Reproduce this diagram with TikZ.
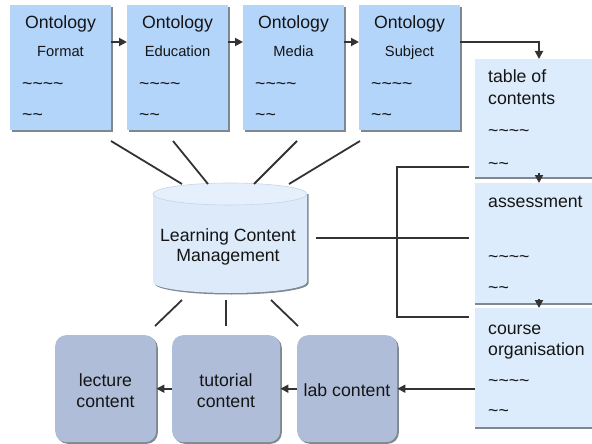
\documentclass[tikz,border=0pt]{standalone}
\usepackage{fontspec}
\setmainfont{Liberation Sans}
\usetikzlibrary{arrows.meta,shadows}
\definecolor{ontofill}{HTML}{B4D5FA}
\definecolor{rfill}{HTML}{DDECFC}
\definecolor{bfill}{HTML}{AFBDD9}
\definecolor{cylfill}{HTML}{DCEAFA}
\definecolor{cyltop}{HTML}{E6F0FC}
\definecolor{cylline}{HTML}{C5D5E8}
\definecolor{shadowc}{HTML}{7E8893}
\definecolor{linec}{HTML}{333333}
\definecolor{txtc}{HTML}{151515}
\newcommand\mytld{\textasciitilde}
\begin{document}
\begin{tikzpicture}[x=1pt,y=-1pt,
  conn/.style={draw=linec, line width=1.8pt},
  arr/.style={conn, -{Triangle[length=8pt,width=8pt]}},
  obox/.style={fill=ontofill, anchor=north west, minimum width=101pt, minimum height=125pt, inner sep=0pt,
    drop shadow={shadow xshift=1.6pt, shadow yshift=-1.6pt, fill=shadowc, opacity=1}},
  rbox/.style={fill=rfill, anchor=north west, minimum width=117pt, inner sep=0pt,
    drop shadow={shadow xshift=0pt, shadow yshift=-1.4pt, fill=shadowc, opacity=1}},
  bbox/.style={fill=bfill, anchor=north west, minimum height=107pt, inner sep=0pt, rounded corners=11pt,
    drop shadow={shadow xshift=1.6pt, shadow yshift=-1.6pt, fill=shadowc, opacity=1}},
  big/.style={font=\fontsize{17.7}{21}\selectfont, text=txtc, inner sep=0pt},
  small/.style={font=\fontsize{14.7}{17}\selectfont, text=txtc, inner sep=0pt},
]
\useasboundingbox (0,0) rectangle (592,444);

% ---- top ontology boxes
\node[obox] (fmt) at (10,5) {};
\node[obox] (edu) at (127,5) {};
\node[obox] (med) at (243,5) {};
\node[obox] (subj) at (359,5) {};
\foreach \n/\x/\s in {fmt/10/Format, edu/127/Education, med/243/Media, subj/359/Subject} {
  \node[big, anchor=base] (\n-t) at (\x+50.5,29) {Ontology};
  \node[small, anchor=base] (\n-s) at (\x+50.5,57) {\s};
  \node[big, anchor=base west] (\n-a) at (\x+12,89) {\mytld\mytld\mytld\mytld};
  \node[big, anchor=base west] (\n-b) at (\x+12,121) {\mytld\mytld};
}

% ---- right column boxes
\node[rbox, minimum height=118pt] (toc) at (475,59) {};
\node[rbox, minimum height=120pt] (ass) at (475,183) {};
\node[rbox, minimum height=119pt] (crs) at (475,308) {};
\node[big, anchor=base west] (toc-1) at (488,83) {table of};
\node[big, anchor=base west] (toc-2) at (488,104) {contents};
\node[big, anchor=base west] (toc-a) at (488,136) {\mytld\mytld\mytld\mytld};
\node[big, anchor=base west] (toc-b) at (488,169) {\mytld\mytld};
\node[big, anchor=base west] (ass-1) at (488,207) {assessment};
\node[big, anchor=base west] (ass-a) at (488,262) {\mytld\mytld\mytld\mytld};
\node[big, anchor=base west] (ass-b) at (488,293) {\mytld\mytld};
\node[big, anchor=base west] (crs-1) at (488,334) {course};
\node[big, anchor=base west] (crs-2) at (488,355) {organisation};
\node[big, anchor=base west] (crs-a) at (488,386) {\mytld\mytld\mytld\mytld};
\node[big, anchor=base west] (crs-b) at (488,416) {\mytld\mytld};

% ---- bottom content boxes
\node[bbox, minimum width=101pt] (lec) at (55,335) {};
\node[bbox, minimum width=108pt] (tut) at (172,335) {};
\node[bbox, minimum width=100pt] (lab) at (297,335) {};
\node[big, anchor=base] (lec-1) at (105.5,386) {lecture};
\node[big, anchor=base] (lec-2) at (105.5,407) {content};
\node[big, anchor=base] (tut-1) at (226,386) {tutorial};
\node[big, anchor=base] (tut-2) at (226,407) {content};
\node[big, anchor=base] (lab-1) at (347,396) {lab content};

% ---- cylinder
\fill[shadowc] (154.5,194) -- (154.5,283.5) arc[start angle=180, end angle=0, x radius=77, y radius=11] -- (308.5,194) -- cycle;
\fill[cylfill] (153,194) -- (153,282) arc[start angle=180, end angle=0, x radius=77, y radius=11] -- (307,194) -- cycle;
\filldraw[fill=cyltop, draw=cylline, line width=0.6pt] (230,194) ellipse [x radius=77, y radius=11];
\node[big, anchor=base] (lcm-1) at (228,241) {Learning Content};
\node[big, anchor=base] (lcm-2) at (228,261) {Management};

% ---- free line ends
\coordinate (t1) at (111,141); \coordinate (c1) at (182,184);
\coordinate (t2) at (173,141); \coordinate (c2) at (208,184);
\coordinate (t3) at (297,141); \coordinate (c3) at (254,184);
\coordinate (t4) at (360,141); \coordinate (c4) at (289,184);
\coordinate (d1) at (182,300); \coordinate (b1) at (155,326);
\coordinate (d2) at (226,300); \coordinate (b2) at (226,326);
\coordinate (d3) at (271,300); \coordinate (b3) at (298,326);
\coordinate (cr) at (316,238); \coordinate (ar) at (469,238);
\coordinate (k1) at (469,167); \coordinate (k2) at (397,167);
\coordinate (k3) at (397,317); \coordinate (k4) at (469,317);

\draw[conn] (t1) -- (c1);
\draw[conn] (t2) -- (c2);
\draw[conn] (t3) -- (c3);
\draw[conn] (t4) -- (c4);
\draw[conn] (d1) -- (b1);
\draw[conn] (d2) -- (b2);
\draw[conn] (d3) -- (b3);
\draw[conn] (cr) -- (ar);
\draw[conn] (k1) -- (k2) -- (k3) -- (k4);

% ---- arrows
\draw[arr] ([yshift=-37pt]fmt.north east) -- ([yshift=-37pt]edu.north west);
\draw[arr] ([yshift=-37pt]edu.north east) -- ([yshift=-37pt]med.north west);
\draw[arr] ([yshift=-37pt]med.north east) -- ([yshift=-37pt]subj.north west);
\draw[arr] ([yshift=-37pt]subj.north east) -| ([xshift=64pt]toc.north west);
\draw[arr] ([xshift=64pt,yshift=4pt]toc.south west) -- ([xshift=64pt]ass.north west);
\draw[arr] ([xshift=64pt,yshift=4pt]ass.south west) -- ([xshift=64pt]crs.north west);
\draw[arr] (lab.east -| crs.west) -- (lab.east);
\draw[arr] (lab.west) -- (tut.east);
\draw[arr] (tut.west) -- (lec.east);
\end{tikzpicture}
\end{document}
